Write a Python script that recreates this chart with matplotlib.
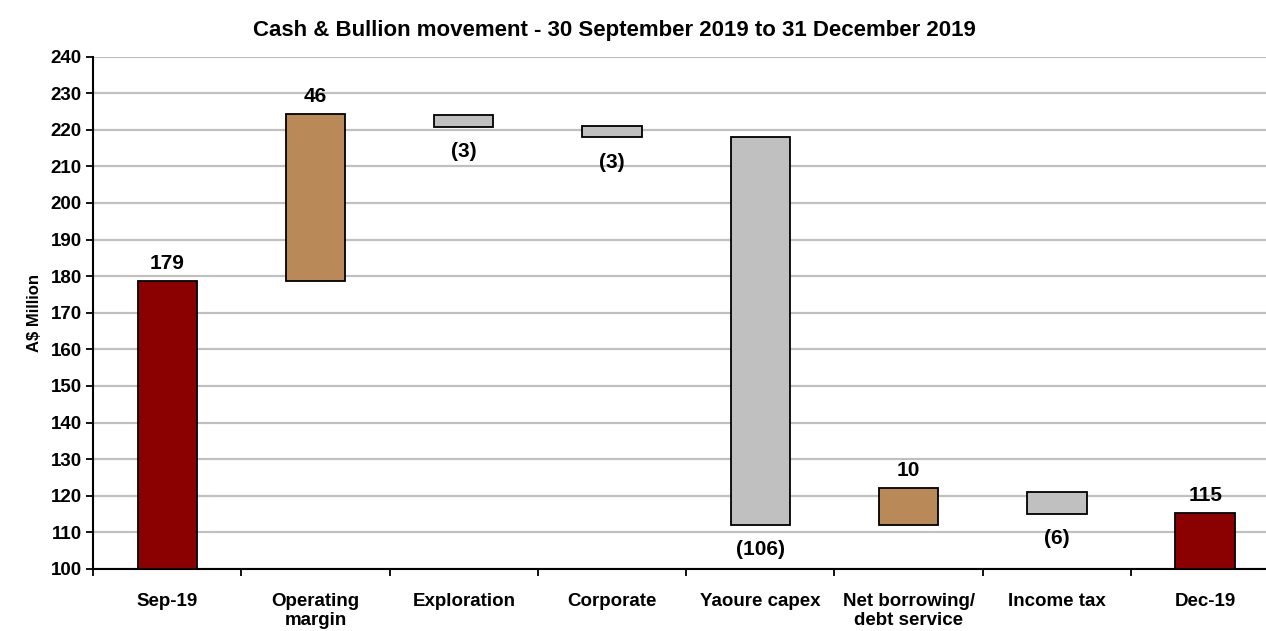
"""Cash & Bullion waterfall, Sep-19 to Dec-19."""
import matplotlib
matplotlib.use("Agg")
import matplotlib.pyplot as plt
import numpy as np

plt.rcParams.update(
    {
        "font.family": ["Liberation Sans Narrow", "Liberation Sans", "DejaVu Sans"],
        "font.weight": "bold",
        "axes.labelweight": "bold",
        "font.size": 13,
    }
)

categories = ["Sep-19", "Operating\nmargin", "Exploration", "Corporate", "Yaoure capex",
              "Net borrowing/\ndebt service", "Income tax", "Dec-19"]
# bar extents (A$ million)
bar_low = [100, 178.6, 220.9, 217.9, 112.0, 112.0, 115.0, 100]
bar_high = [178.6, 224.2, 224.1, 221.1, 218.0, 122.0, 121.1, 115.2]
value_labels = ["179", "46", "(3)", "(3)", "(106)", "10", "(6)", "115"]
kinds = ["total", "up", "down", "down", "down", "up", "down", "total"]

colours = {"total": "#8B0000", "up": "#B98A57", "down": "#C0C0C0"}

fig = plt.figure(figsize=(12.66, 6.31), dpi=100)
ax = fig.add_axes([0.0735, 0.0983, 0.937, 0.812])

x = np.arange(len(categories))
low = np.array(bar_low)
high = np.array(bar_high)
ax.bar(x, high - low, bottom=low, width=0.4,
       color=[colours[k] for k in kinds], edgecolor="black", linewidth=1.3, zorder=3)

for xi, lo, hi, lab, k in zip(x, low, high, value_labels, kinds):
    if k == "down":
        ax.annotate(lab, (xi, lo), xytext=(0, -11), textcoords="offset points",
                    ha="center", va="top", fontsize=15)
    else:
        ax.annotate(lab, (xi, hi), xytext=(0, 6), textcoords="offset points",
                    ha="center", va="bottom", fontsize=15)

ax.set_xlim(-0.5, len(categories) - 0.5)
ax.set_ylim(100, 240)
ax.set_yticks(np.arange(100, 241, 10))
ax.yaxis.grid(True, color="#c0c0c0", linewidth=1.6, zorder=0)
ax.set_axisbelow(True)

ax.set_xticks(x)
ax.set_xticklabels(categories, fontsize=13.5, linespacing=1.2)
ax.set_xticks(np.arange(-0.5, len(categories)), minor=True)
ax.tick_params(axis="x", which="major", length=0, pad=17)
ax.tick_params(axis="x", which="minor", length=5, width=1.3, direction="out")
ax.tick_params(axis="y", length=5, width=1.3, direction="out", labelsize=13.5, pad=3)

for s in ["top", "right"]:
    ax.spines[s].set_visible(False)
for s in ["left", "bottom"]:
    ax.spines[s].set_linewidth(1.5)

ax.set_ylabel("A$ Million", fontsize=12, labelpad=6)
fig.text(0.485, 0.952, "Cash & Bullion movement - 30 September 2019 to 31 December 2019",
         ha="center", va="center", fontsize=16)

fig.savefig("out.png", dpi=100)
